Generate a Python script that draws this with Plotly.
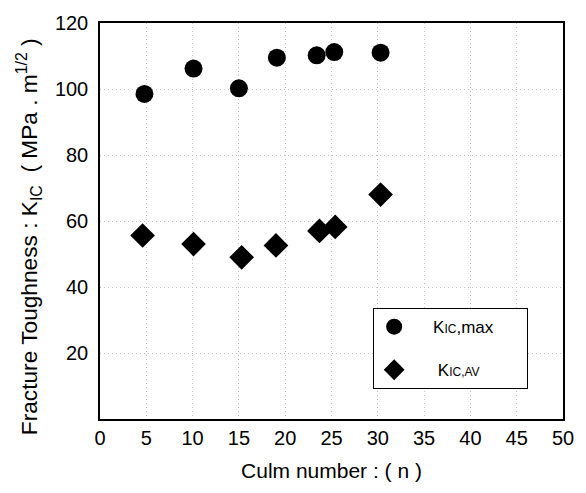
import plotly.graph_objects as go

culm_max = [4.8, 10.1, 15.0, 19.1, 23.4, 25.3, 30.3]
kic_max = [98.5, 106.2, 100.2, 109.5, 110.2, 111.2, 111.0]
culm_av = [4.6, 10.1, 15.3, 19.0, 23.7, 25.4, 30.3]
kic_av = [55.6, 53.0, 49.0, 52.6, 57.0, 58.2, 68.0]
x_ticks = [0, 5, 10, 15, 20, 25, 30, 35, 40, 45, 50]
y_ticks = [20, 40, 60, 80, 100, 120]

FONT = "Liberation Sans, Arial, Helvetica, sans-serif"
NB = "&nbsp;"

fig = go.Figure()
fig.add_trace(go.Scatter(
    x=culm_max, y=kic_max, mode="markers", legendgroup="a",
    name=NB * 4 + "K<span style='font-size:12px'>IC</span>,max" + NB * 6,
    marker=dict(symbol="circle", size=18, color="black"),
))
fig.add_trace(go.Scatter(
    x=culm_av, y=kic_av, mode="markers", legendgroup="b",
    name=NB * 5 + "K<span style='font-size:12px'>IC,AV</span>" + NB * 6,
    marker=dict(symbol="diamond", size=19, color="black"),
))

fig.update_layout(
    width=586, height=493,
    margin=dict(l=100, r=22, t=21, b=74),
    paper_bgcolor="white", plot_bgcolor="white",
    font=dict(family=FONT, size=20, color="black"),
    showlegend=True,
    legend=dict(
        x=0.59, y=0.28, xanchor="left", yanchor="top",
        bordercolor="black", borderwidth=1, bgcolor="white",
        font=dict(family=FONT, size=17, color="black"),
        itemsizing="trace", tracegroupgap=18,
    ),
)
fig.update_xaxes(
    range=[0, 50], tickvals=x_ticks, ticktext=[str(v) for v in x_ticks],
    showline=True, linecolor="black", linewidth=1.5, mirror=True,
    showgrid=True, gridcolor="#c4c4c4", griddash="1px,3px", gridwidth=1,
    zeroline=False, ticks="", ticklabelstandoff=0,
    tickfont=dict(size=20),
    title=dict(text="Culm number : ( n )", font=dict(size=21), standoff=16),
)
fig.update_yaxes(
    range=[0, 120], tickvals=y_ticks, ticktext=[str(v) for v in y_ticks],
    showline=True, linecolor="black", linewidth=1.5, mirror=True,
    showgrid=True, gridcolor="#c4c4c4", griddash="1px,3px", gridwidth=1,
    zeroline=False, ticks="", ticklabelstandoff=6,
    tickfont=dict(size=20),
    title=dict(text="Fracture Toughness : K<sub>IC</sub>  ( MPa . m<sup>1/2</sup> )" + NB * 5,
               font=dict(size=22.7), standoff=11),
)

fig.write_html("out.html", config={"displayModeBar": False},
               post_script="document.body.style.margin='0';")
